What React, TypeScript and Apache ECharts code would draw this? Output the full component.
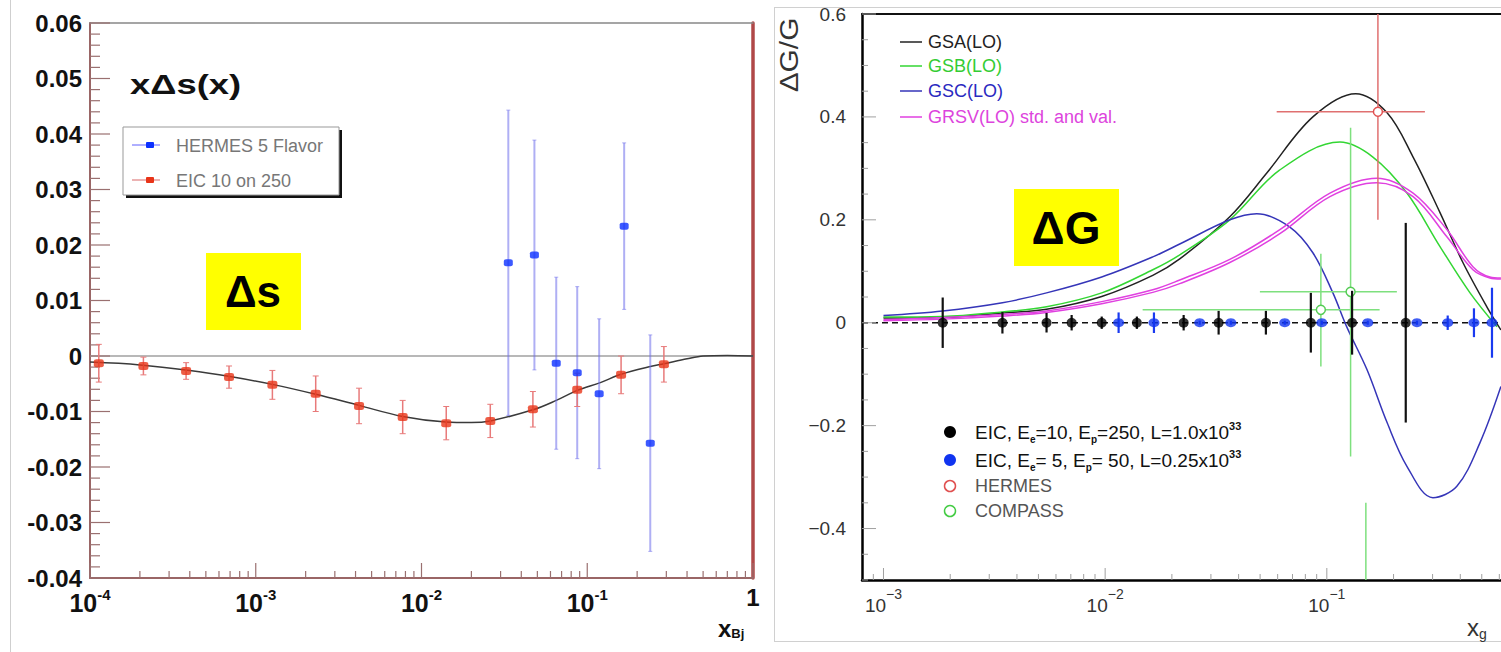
import React, { useEffect, useRef } from 'react';
import * as echarts from 'echarts';

// ---------------- Left panel: x Δs(x) ----------------
const eicDsX = [1.13e-4, 2.1e-4, 3.8e-4, 6.9e-4, 1.26e-3, 2.3e-3, 4.2e-3, 7.7e-3, 1.41e-2, 2.6e-2, 4.7e-2, 8.7e-2, 0.16, 0.29];
const eicDsY = [-0.0013, -0.0018, -0.0027, -0.0038, -0.0052, -0.0068, -0.009, -0.011, -0.0121, -0.0117, -0.0096, -0.0061, -0.0034, -0.0015];
const eicDsErr = [0.0034, 0.0016, 0.0015, 0.002, 0.0026, 0.0032, 0.0032, 0.003, 0.003, 0.003, 0.0032, 0.003, 0.0034, 0.0032];

const hermesDsX = [0.0334, 0.048, 0.065, 0.087, 0.118, 0.167, 0.24];
const hermesDsY = [0.0168, 0.0182, -0.0013, -0.003, -0.0068, 0.0234, -0.0157];
const hermesDsErr = [0.0275, 0.0207, 0.0155, 0.0155, 0.0135, 0.015, 0.0195];

const dsCurveX = [1e-4, 2e-4, 4e-4, 7e-4, 1.3e-3, 2.3e-3, 4.2e-3, 7.7e-3, 1.4e-2, 2e-2, 2.6e-2, 4.7e-2, 6.5e-2, 8.7e-2, 0.12, 0.16, 0.24, 0.29, 0.4, 0.5, 0.7, 1];
const dsCurveY = [-0.0011, -0.0016, -0.0026, -0.0037, -0.0052, -0.0069, -0.0089, -0.0109, -0.0119, -0.012, -0.0117, -0.0097, -0.008, -0.0062, -0.0048, -0.0033, -0.0019, -0.0014, -0.0005, 0, 0.0001, 0];

// ---------------- Right panel: ΔG/G ----------------
const gsaX = [1e-3, 1.85e-3, 3.44e-3, 5.44e-3, 9.65e-3, 0.0164, 0.0217, 0.0365, 0.0536, 0.0865, 0.135, 0.187, 0.245, 0.324, 0.411, 0.527, 0.61];
const gsaY = [0.009, 0.01, 0.019, 0.026, 0.051, 0.092, 0.124, 0.206, 0.291, 0.4, 0.445, 0.408, 0.322, 0.214, 0.117, 0.031, -0.014];

const gsbX = [1e-3, 1.85e-3, 3.44e-3, 5.44e-3, 9.65e-3, 0.0164, 0.0217, 0.0365, 0.0614, 0.1146, 0.1614, 0.2298, 0.324, 0.4426, 0.586];
const gsbY = [0.011, 0.012, 0.021, 0.031, 0.058, 0.103, 0.132, 0.2, 0.297, 0.351, 0.322, 0.252, 0.148, 0.058, -0.008];

const gscX = [1e-3, 1.85e-3, 3.44e-3, 5.44e-3, 9.65e-3, 0.0164, 0.0217, 0.0365, 0.0483, 0.0681, 0.0865, 0.1065, 0.123, 0.1517, 0.187, 0.2298, 0.301, 0.386, 0.491, 0.61];
const gscY = [0.014, 0.023, 0.039, 0.058, 0.089, 0.128, 0.153, 0.2, 0.212, 0.186, 0.136, 0.058, -0.008, -0.091, -0.194, -0.279, -0.34, -0.318, -0.233, -0.124];

const grsvX = [1e-3, 1.85e-3, 3.44e-3, 5.44e-3, 9.65e-3, 0.0164, 0.0217, 0.0365, 0.0614, 0.1033, 0.168, 0.245, 0.348, 0.456, 0.544, 0.61];
const grsvStdY = [0.006, 0.01, 0.016, 0.023, 0.041, 0.064, 0.083, 0.123, 0.181, 0.252, 0.281, 0.252, 0.181, 0.109, 0.089, 0.087];
const grsvValY = [0.004, 0.007, 0.013, 0.02, 0.037, 0.059, 0.076, 0.117, 0.173, 0.245, 0.272, 0.245, 0.167, 0.103, 0.087, 0.085];

const eicBlackX = [1.85e-3, 3.44e-3, 5.44e-3, 7.06e-3, 9.65e-3, 1.39e-2, 2.26e-2, 3.25e-2, 5.31e-2, 8.47e-2, 0.13, 0.227];
const eicBlackY = [0, 0, 0, 0, 0, 0, 0, 0, 0, 0, 0, 0];
const eicBlackErr = [0.049, 0.021, 0.019, 0.015, 0.012, 0.012, 0.015, 0.023, 0.023, 0.058, 0.062, 0.194];

const eicBlueX = [1.15e-2, 1.66e-2, 2.67e-2, 3.69e-2, 6.46e-2, 9.49e-2, 0.153, 0.255, 0.351, 0.461, 0.556];
const eicBlueY = [0, 0, 0, 0, 0, 0, 0, 0, 0, 0, 0];
const eicBlueErr = [0.02, 0.02, 0.004, 0.004, 0.004, 0.004, 0.004, 0.004, 0.014, 0.028, 0.068];

// [x, y, xLow, xHigh, yLow, yHigh]
const hermesG = [[0.17, 0.41, 0.0594, 0.277, 0.2, 0.62]];
const compassG = [
  [0.128, 0.06, 0.0499, 0.207, -0.26, 0.379],
  [0.094, 0.025, 0.01476, 0.173, -0.085, 0.134],
  [0.15, -0.75, 0.15, 0.15, -1.15, -0.35],
];

// ---------------- helpers ----------------
const FONT = 'Liberation Sans, Arial, Helvetica, sans-serif';
const zip = (xs: number[], ys: number[]) => xs.map((x, i) => [x, ys[i]]);
const errData = (xs: number[], ys: number[], es: number[]) => xs.map((x, i) => [x, ys[i] - es[i], ys[i] + es[i]]);

function logTicks(e0: number, e1: number, base: number, from: number) {
  const out: number[][] = [];
  for (let e = e0; e < e1; e++) for (let m = 1; m < 10; m++) {
    const v = m * Math.pow(10, e);
    if (v >= from * 0.999) out.push([v, base, m === 1 ? 1 : 0]);
  }
  out.push([Math.pow(10, e1), base, 1]);
  return out;
}
function linTicks(min: number, max: number, step: number, every: number, xBase: number) {
  const out: number[][] = [];
  const n = Math.round((max - min) / step);
  for (let i = 0; i <= n; i++) {
    const v = min + i * step;
    const k = Math.round(v / step);
    out.push([xBase, v, k % every === 0 ? 1 : 0]);
  }
  return out;
}

function xTickRender(major: number, minor: number, color: string, w: number) {
  return (params: any, api: any) => {
    const p = api.coord([api.value(0), api.value(1)]);
    const len = api.value(2) ? major : minor;
    return { type: 'line', shape: { x1: p[0], y1: p[1], x2: p[0], y2: p[1] - len }, style: { stroke: color, lineWidth: w } };
  };
}
function yTickRender(major: number, minor: number, color: string, w: number) {
  return (params: any, api: any) => {
    const p = api.coord([api.value(0), api.value(1)]);
    const len = api.value(2) ? major : minor;
    return { type: 'line', shape: { x1: p[0], y1: p[1], x2: p[0] + len, y2: p[1] }, style: { stroke: color, lineWidth: w } };
  };
}
function vErrRender(color: string, w: number, cap: number) {
  return (params: any, api: any) => {
    const x = api.value(0);
    const p1 = api.coord([x, api.value(2)]);
    const p2 = api.coord([x, api.value(1)]);
    const children: any[] = [
      { type: 'line', shape: { x1: p1[0], y1: p1[1], x2: p2[0], y2: p2[1] }, style: { stroke: color, lineWidth: w } },
    ];
    if (cap > 0) {
      children.push({ type: 'line', shape: { x1: p1[0] - cap, y1: p1[1], x2: p1[0] + cap, y2: p1[1] }, style: { stroke: color, lineWidth: 1 } });
      children.push({ type: 'line', shape: { x1: p2[0] - cap, y1: p2[1], x2: p2[0] + cap, y2: p2[1] }, style: { stroke: color, lineWidth: 1 } });
    }
    return { type: 'group', children };
  };
}
function crossRender(lineColor: string, circleColor: string) {
  return (params: any, api: any) => {
    const x = api.value(0), y = api.value(1);
    const c = api.coord([x, y]);
    const l = api.coord([api.value(2), y]);
    const r = api.coord([api.value(3), y]);
    const t = api.coord([x, api.value(5)]);
    const b = api.coord([x, api.value(4)]);
    return {
      type: 'group',
      children: [
        { type: 'line', shape: { x1: l[0], y1: l[1], x2: r[0], y2: r[1] }, style: { stroke: lineColor, lineWidth: 1.5 } },
        { type: 'line', shape: { x1: t[0], y1: t[1], x2: b[0], y2: b[1] }, style: { stroke: lineColor, lineWidth: 1.5 } },
        { type: 'circle', shape: { cx: c[0], cy: c[1], r: 4.5 }, style: { fill: '#fff', stroke: circleColor, lineWidth: 1.5 } },
      ],
    };
  };
}

const leftXLabel = (v: number) => {
  const e = Math.log10(v);
  const r = Math.round(e);
  if (Math.abs(e - r) > 1e-6) return '';
  if (r === 0) return '{one|1}';
  return `{b|10}{s|${r}}`;
};
const rightXLabel = (v: number) => {
  const e = Math.log10(v);
  const r = Math.round(e);
  if (Math.abs(e - r) > 1e-6) return '';
  if (r === 0) return '';
  return `{b|10}{s|−${Math.abs(r)}}`;
};
const leftYLabel = (v: number) => (Math.abs(v) < 1e-9 ? '0' : v.toFixed(2));
const rightYLabel = (v: number) => {
  const k = Math.round(v / 0.2);
  if (Math.abs(v - k * 0.2) > 1e-6) return '';
  if (k === 0) return '0';
  return (v < 0 ? '−' : '') + Math.abs(v).toFixed(1);
};

const noAxisExtras = { splitLine: { show: false }, axisTick: { show: false } };

function buildOption(): any {
  const lineS = (name: string, xs: number[], ys: number[], color: string, xi: number, yi: number, w = 1.5, z = 3) => ({
    name, type: 'line', xAxisIndex: xi, yAxisIndex: yi, data: zip(xs, ys), showSymbol: false, symbol: 'none',
    smooth: 0.35, lineStyle: { color, width: w }, z, silent: true,
  });

  return {
    animation: false,
    backgroundColor: '#ffffff',
    grid: [
      { left: 90, top: 23, width: 663, height: 555, outerBoundsMode: 'none', containLabel: false },
      { left: 862, top: 14, width: 686.5, height: 566, outerBoundsMode: 'none', containLabel: false },
    ],
    xAxis: [
      {
        type: 'log', gridIndex: 0, min: 1e-4, max: 1, logBase: 10,
        axisLine: { onZero: false, lineStyle: { color: '#9a6666', width: 2 } },
        ...noAxisExtras,
        axisLabel: {
          formatter: leftXLabel, margin: 7, color: '#111',
          rich: {
            b: { fontFamily: FONT, fontWeight: 'bold', fontSize: 25, color: '#111', lineHeight: 30, verticalAlign: 'bottom' },
            s: { fontFamily: FONT, fontWeight: 'bold', fontSize: 15, color: '#111', lineHeight: 30, verticalAlign: 'top', padding: [2, 0, 0, 0] },
            one: { fontFamily: FONT, fontWeight: 'bold', fontSize: 24, color: '#111', padding: [0, 0, 14, 0] },
          },
        },
      },
      { type: 'value', gridIndex: 0, position: 'top', min: 0, max: 1, axisLine: { onZero: false, lineStyle: { color: '#888', width: 1.5 } }, axisLabel: { show: false }, ...noAxisExtras },
      {
        type: 'log', gridIndex: 1, min: 0.0008, max: 1, logBase: 10,
        axisLine: { onZero: false, lineStyle: { color: '#000', width: 2.5 } },
        ...noAxisExtras,
        axisLabel: {
          formatter: rightXLabel, margin: 7, color: '#333',
          rich: {
            b: { fontFamily: FONT, fontSize: 19, color: '#333', lineHeight: 28, verticalAlign: 'bottom' },
            s: { fontFamily: FONT, fontSize: 14, color: '#333', lineHeight: 28, verticalAlign: 'top' },
          },
        },
      },
      { type: 'value', gridIndex: 1, position: 'top', min: 0, max: 1, axisLine: { onZero: false, lineStyle: { color: '#111', width: 2 } }, axisLabel: { show: false }, ...noAxisExtras },
    ],
    yAxis: [
      {
        type: 'value', gridIndex: 0, min: -0.04, max: 0.06, interval: 0.01,
        axisLine: { onZero: false, lineStyle: { color: '#9a6666', width: 2 } },
        ...noAxisExtras,
        axisLabel: { formatter: leftYLabel, margin: 8, fontFamily: FONT, fontWeight: 'bold', fontSize: 24, color: '#111' },
      },
      { type: 'value', gridIndex: 0, position: 'right', min: 0, max: 1, axisLine: { onZero: false, lineStyle: { color: '#b04848', width: 3.5 } }, axisLabel: { show: false }, ...noAxisExtras },
      {
        type: 'value', gridIndex: 1, min: -0.5, max: 0.6, interval: 0.05,
        axisLine: { onZero: false, lineStyle: { color: '#000', width: 2.5 } },
        ...noAxisExtras,
        axisLabel: { formatter: rightYLabel, margin: 16, fontFamily: FONT, fontSize: 19, color: '#333' },
      },
    ],
    series: [
      // ----- left panel -----
      { type: 'line', xAxisIndex: 0, yAxisIndex: 0, data: [[1e-4, 0], [1, 0]], showSymbol: false, lineStyle: { color: '#a0a0a0', width: 1.5 }, silent: true, z: 1 },
      lineS('theory Δs', dsCurveX, dsCurveY, '#3a3a3a', 0, 0, 1.5, 2),
      { type: 'custom', name: 'HERMES err', xAxisIndex: 0, yAxisIndex: 0, data: errData(hermesDsX, hermesDsY, hermesDsErr), encode: { x: 0, y: [1, 2] }, renderItem: vErrRender('rgba(110,110,235,0.55)', 2, 2), z: 3, silent: true },
      { type: 'custom', name: 'EIC err', xAxisIndex: 0, yAxisIndex: 0, data: errData(eicDsX, eicDsY, eicDsErr), encode: { x: 0, y: [1, 2] }, renderItem: vErrRender('#e87a7a', 1.5, 3), z: 4, silent: true },
      { type: 'scatter', name: 'HERMES 5 Flavor', xAxisIndex: 0, yAxisIndex: 0, data: zip(hermesDsX, hermesDsY), symbol: 'roundRect', symbolSize: [9, 7], itemStyle: { color: '#0b30ff' }, z: 5, silent: true },
      { type: 'scatter', name: 'EIC 10 on 250', xAxisIndex: 0, yAxisIndex: 0, data: zip(eicDsX, eicDsY), symbol: 'roundRect', symbolSize: [10, 8], itemStyle: { color: '#e83418' }, z: 6, silent: true },
      { type: 'custom', xAxisIndex: 0, yAxisIndex: 0, data: logTicks(-4, 0, -0.04, 1e-4), encode: { x: 0, y: 1 }, renderItem: xTickRender(15, 7, '#9a7070', 1.2), z: 2, silent: true },
      { type: 'custom', xAxisIndex: 0, yAxisIndex: 0, data: linTicks(-0.04, 0.06, 0.002, 5, 1e-4), encode: { x: 0, y: 1 }, renderItem: yTickRender(20, 10, '#9a7070', 1.2), z: 2, silent: true },

      // ----- right panel -----
      { type: 'line', xAxisIndex: 2, yAxisIndex: 2, data: [[0.0008, 0], [1, 0]], showSymbol: false, lineStyle: { color: '#111', width: 1.5, type: [6, 4] }, silent: true, z: 1 },
      lineS('GSA(LO)', gsaX, gsaY, '#222222', 2, 2),
      lineS('GSB(LO)', gsbX, gsbY, '#33d633', 2, 2),
      lineS('GSC(LO)', gscX, gscY, '#3535b8', 2, 2),
      lineS('GRSV(LO) std.', grsvX, grsvStdY, '#e040e0', 2, 2),
      lineS('GRSV(LO) val.', grsvX, grsvValY, '#e040e0', 2, 2),
      { type: 'custom', name: 'HERMES', xAxisIndex: 2, yAxisIndex: 2, data: hermesG, encode: { x: [0, 2, 3], y: [1, 4, 5] }, renderItem: crossRender('#e07070', '#e05050'), clip: true, z: 4, silent: true },
      { type: 'custom', name: 'COMPASS', xAxisIndex: 2, yAxisIndex: 2, data: compassG, encode: { x: [0, 2, 3], y: [1, 4, 5] }, renderItem: crossRender('#7ee07e', '#55cc55'), clip: true, z: 4, silent: true },
      { type: 'custom', name: 'EIC black err', xAxisIndex: 2, yAxisIndex: 2, data: errData(eicBlackX, eicBlackY, eicBlackErr), encode: { x: 0, y: [1, 2] }, renderItem: vErrRender('#111', 2.2, 0), clip: true, z: 5, silent: true },
      { type: 'custom', name: 'EIC blue err', xAxisIndex: 2, yAxisIndex: 2, data: errData(eicBlueX, eicBlueY, eicBlueErr), encode: { x: 0, y: [1, 2] }, renderItem: vErrRender('#1a3af0', 2.2, 0), clip: true, z: 5, silent: true },
      { type: 'scatter', name: 'EIC 10x250', xAxisIndex: 2, yAxisIndex: 2, data: zip(eicBlackX, eicBlackY), symbol: 'circle', symbolSize: 10, itemStyle: { color: '#000' }, z: 6, silent: true },
      { type: 'scatter', name: 'EIC 5x50', xAxisIndex: 2, yAxisIndex: 2, data: zip(eicBlueX, eicBlueY), symbol: 'circle', symbolSize: [11, 9], itemStyle: { color: '#1034f0' }, z: 6, silent: true },
      { type: 'custom', xAxisIndex: 2, yAxisIndex: 2, data: logTicks(-4, 0, -0.5, 0.0009), encode: { x: 0, y: 1 }, renderItem: xTickRender(12, 6, '#a0a0a0', 1), z: 2, silent: true },
      { type: 'custom', xAxisIndex: 2, yAxisIndex: 2, data: linTicks(-0.5, 0.6, 0.05, 4, 0.0008), encode: { x: 0, y: 1 }, renderItem: yTickRender(14, 6, '#a0a0a0', 1), z: 2, silent: true },
    ],
    graphic: [
      // panel frames
      { type: 'line', shape: { x1: 10.5, y1: 0, x2: 10.5, y2: 652 }, style: { stroke: '#cfcfcf', lineWidth: 1 }, silent: true },
      { type: 'line', shape: { x1: 774.5, y1: 7, x2: 774.5, y2: 642 }, style: { stroke: '#d0d0d0', lineWidth: 1 }, silent: true },
      { type: 'line', shape: { x1: 774, y1: 7.5, x2: 1501, y2: 7.5 }, style: { stroke: '#d0d0d0', lineWidth: 1 }, silent: true },
      { type: 'line', shape: { x1: 774, y1: 641.5, x2: 1501, y2: 641.5 }, style: { stroke: '#d0d0d0', lineWidth: 1 }, silent: true },

      // left title
      { type: 'text', x: 130, y: 85, scaleX: 1.3, style: { text: 'xΔs(x)', font: `bold 28px ${FONT}`, fill: '#111', verticalAlign: 'middle' }, silent: true },
      // left legend
      { type: 'rect', shape: { x: 126, y: 130, width: 216, height: 68 }, style: { fill: '#111' }, silent: true },
      { type: 'rect', shape: { x: 123, y: 127, width: 216, height: 68 }, style: { fill: '#fff', stroke: '#999', lineWidth: 1 }, silent: true },
      { type: 'line', shape: { x1: 132, y1: 145, x2: 160, y2: 145 }, style: { stroke: '#7a7aff', lineWidth: 1.2 }, silent: true },
      { type: 'rect', shape: { x: 146, y: 142, width: 8, height: 6, r: 1 }, style: { fill: '#0b30ff' }, silent: true },
      { type: 'text', x: 176, y: 146, style: { text: 'HERMES 5 Flavor', font: `18px ${FONT}`, fill: '#777', verticalAlign: 'middle' }, silent: true },
      { type: 'line', shape: { x1: 132, y1: 180, x2: 160, y2: 180 }, style: { stroke: '#e08080', lineWidth: 1.2 }, silent: true },
      { type: 'rect', shape: { x: 146, y: 177, width: 8, height: 6, r: 1 }, style: { fill: '#e83418' }, silent: true },
      { type: 'text', x: 176, y: 181, style: { text: 'EIC 10 on 250', font: `18px ${FONT}`, fill: '#777', verticalAlign: 'middle' }, silent: true },
      // left yellow box
      { type: 'rect', shape: { x: 206, y: 253, width: 95, height: 77 }, style: { fill: '#ffff00' }, silent: true },
      { type: 'text', x: 253, y: 291, style: { text: 'Δs', font: `bold 44px ${FONT}`, fill: '#000', align: 'center', verticalAlign: 'middle' }, silent: true },
      // left x axis title
      {
        type: 'text', x: 718, y: 628, silent: true,
        style: {
          text: '{a|x}{b|Bj}', verticalAlign: 'middle',
          rich: { a: { font: `bold 24px ${FONT}`, fill: '#111', lineHeight: 24, verticalAlign: 'top' }, b: { font: `bold 13px ${FONT}`, fill: '#111', lineHeight: 24, verticalAlign: 'bottom' } },
        },
      },

      // right y title
      { type: 'text', x: 789, y: 55, rotation: Math.PI / 2, scaleX: 1.15, style: { text: 'ΔG/G', font: `26px ${FONT}`, fill: '#333', align: 'center', verticalAlign: 'middle' }, silent: true },
      // right legend (curves)
      { type: 'line', shape: { x1: 900, y1: 42, x2: 922, y2: 42 }, style: { stroke: '#222', lineWidth: 1.5 }, silent: true },
      { type: 'text', x: 928, y: 42, style: { text: 'GSA(LO)', font: `18px ${FONT}`, fill: '#222', verticalAlign: 'middle' }, silent: true },
      { type: 'line', shape: { x1: 900, y1: 66, x2: 922, y2: 66 }, style: { stroke: '#33d633', lineWidth: 1.5 }, silent: true },
      { type: 'text', x: 928, y: 66, style: { text: 'GSB(LO)', font: `18px ${FONT}`, fill: '#33cc33', verticalAlign: 'middle' }, silent: true },
      { type: 'line', shape: { x1: 900, y1: 91, x2: 922, y2: 91 }, style: { stroke: '#3535b8', lineWidth: 1.5 }, silent: true },
      { type: 'text', x: 928, y: 91, style: { text: 'GSC(LO)', font: `18px ${FONT}`, fill: '#2a2ac0', verticalAlign: 'middle' }, silent: true },
      { type: 'line', shape: { x1: 900, y1: 117, x2: 922, y2: 117 }, style: { stroke: '#e040e0', lineWidth: 1.5 }, silent: true },
      { type: 'text', x: 928, y: 117, style: { text: 'GRSV(LO) std. and val.', font: `18px ${FONT}`, fill: '#dd44dd', verticalAlign: 'middle' }, silent: true },
      // right legend (data)
      { type: 'circle', shape: { cx: 950, cy: 432, r: 6 }, style: { fill: '#000' }, silent: true },
      {
        type: 'text', x: 975, y: 432, silent: true,
        style: {
          text: '{t|EIC, E}{sub|e}{t|=10, E}{sub|p}{t|=250, L=1.0x10}{sup|33}', verticalAlign: 'middle',
          rich: {
            t: { font: `19px ${FONT}`, fill: '#111', lineHeight: 24, verticalAlign: 'middle' },
            sub: { font: `bold 10px ${FONT}`, fill: '#111', lineHeight: 24, verticalAlign: 'bottom' },
            sup: { font: `bold 11px ${FONT}`, fill: '#111', lineHeight: 24, verticalAlign: 'top' },
          },
        },
      },
      { type: 'circle', shape: { cx: 950, cy: 460, r: 6 }, style: { fill: '#1034f0' }, silent: true },
      {
        type: 'text', x: 975, y: 460, silent: true,
        style: {
          text: '{t|EIC, E}{sub|e}{t|= 5, E}{sub|p}{t|= 50, L=0.25x10}{sup|33}', verticalAlign: 'middle',
          rich: {
            t: { font: `19px ${FONT}`, fill: '#111', lineHeight: 24, verticalAlign: 'middle' },
            sub: { font: `bold 10px ${FONT}`, fill: '#111', lineHeight: 24, verticalAlign: 'bottom' },
            sup: { font: `bold 11px ${FONT}`, fill: '#111', lineHeight: 24, verticalAlign: 'top' },
          },
        },
      },
      { type: 'circle', shape: { cx: 950, cy: 486, r: 5.5 }, style: { fill: '#fff', stroke: '#e05050', lineWidth: 1.5 }, silent: true },
      { type: 'text', x: 975, y: 486, style: { text: 'HERMES', font: `18px ${FONT}`, fill: '#555', verticalAlign: 'middle' }, silent: true },
      { type: 'circle', shape: { cx: 950, cy: 511, r: 5.5 }, style: { fill: '#fff', stroke: '#44cc44', lineWidth: 1.5 }, silent: true },
      { type: 'text', x: 975, y: 511, style: { text: 'COMPASS', font: `18px ${FONT}`, fill: '#555', verticalAlign: 'middle' }, silent: true },
      // right yellow box
      { type: 'rect', shape: { x: 1014, y: 189, width: 105, height: 77 }, style: { fill: '#ffff00' }, silent: true },
      { type: 'text', x: 1066, y: 228, style: { text: 'ΔG', font: `bold 46px ${FONT}`, fill: '#000', align: 'center', verticalAlign: 'middle' }, silent: true },
      // right x axis title
      {
        type: 'text', x: 1467, y: 628, silent: true,
        style: {
          text: '{a|x}{b|g}', verticalAlign: 'middle',
          rich: { a: { font: `24px ${FONT}`, fill: '#333', lineHeight: 26, verticalAlign: 'top' }, b: { font: `14px ${FONT}`, fill: '#333', lineHeight: 26, verticalAlign: 'bottom' } },
        },
      },
    ],
  };
}

export default function App() {
  const ref = useRef<HTMLDivElement>(null);
  useEffect(() => {
    if (!ref.current) return;
    const chart = echarts.init(ref.current, null, { renderer: 'svg' });
    chart.setOption(buildOption());
    return () => chart.dispose();
  }, []);
  return (
    <div
      ref={ref}
      style={{ position: 'absolute', left: 0, top: 0, width: 1501, height: 652, overflow: 'hidden', background: '#fff' }}
    />
  );
}
